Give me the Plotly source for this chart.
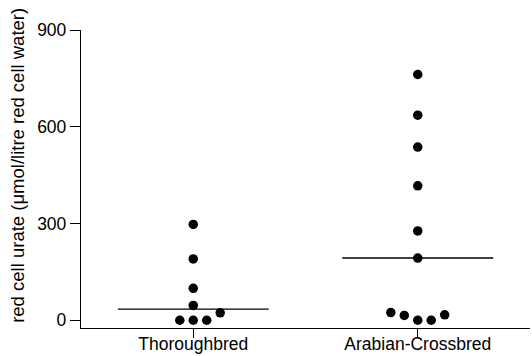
import numpy as np
import plotly.graph_objects as go

# Red cell urate per horse, grouped by breed
categories = ["Thoroughbred", "Arabian-Crossbred"]
thoroughbred = [297, 190, 99, 46, 23, 0, 0, 0]
arabian_crossbred = [762, 636, 537, 417, 277, 193, 24, 15, 0, 0, 17]
groups = [thoroughbred, arabian_crossbred]

y_ticks = [0, 300, 600, 900]
y_range = [-24, 900]
y_title = "red cell urate (\u03bcmol/litre red cell water)"

# Column-scatter spacing: horizontal step between neighbouring dots and
# the vertical clearance (in data units) before dots need to be spread out.
STEP = 0.06
CLEARANCE = 29.0
MEDIAN_HALF_WIDTH = 0.336


def spread(values):
    """Simple beeswarm: put each value in the first column slot that is free."""
    order = np.argsort(values, kind="stable")
    slots = [0, 1, -1, 2, -2, 3, -3]
    placed = []  # (slot, value)
    offsets = [0.0] * len(values)
    for i in order:
        v = values[i]
        for s in slots:
            if all(not (ps == s and abs(pv - v) < CLEARANCE) for ps, pv in placed):
                placed.append((s, v))
                offsets[i] = s * STEP
                break
    return offsets


fig = go.Figure()
for gi, vals in enumerate(groups):
    offs = spread(vals)
    fig.add_trace(go.Scatter(
        x=[gi + o for o in offs], y=vals, mode="markers",
        marker=dict(color="black", size=9.5, line=dict(width=0)),
        showlegend=False, hoverinfo="y",
    ))
    med = float(np.median(vals))
    fig.add_trace(go.Scatter(
        x=[gi - MEDIAN_HALF_WIDTH, gi + MEDIAN_HALF_WIDTH], y=[med, med],
        mode="lines", line=dict(color="black", width=1.3),
        showlegend=False, hoverinfo="skip",
    ))

font = dict(family="Arial, Liberation Sans, sans-serif", size=17.5, color="black")
fig.update_layout(
    width=532, height=356,
    margin=dict(l=81, r=2, t=30, b=28),
    paper_bgcolor="white", plot_bgcolor="white",
    font=font,
    xaxis=dict(
        range=[-0.5, 1.5], tickvals=[0, 1], ticktext=categories,
        showline=True, linecolor="black", linewidth=1.3,
        ticks="outside", ticklen=9, tickwidth=1.3, tickcolor="black",
        ticklabelstandoff=-9,
        showgrid=False, zeroline=False, fixedrange=True, automargin=False,
    ),
    yaxis=dict(
        range=y_range, tickvals=y_ticks,
        showline=True, linecolor="black", linewidth=1.3,
        ticks="outside", ticklen=10, tickwidth=1.3, tickcolor="black",
        showgrid=False, zeroline=False, fixedrange=True, automargin=False,
    ),
    annotations=[dict(
        text=y_title, textangle=-90, showarrow=False,
        xref="paper", yref="paper", x=-0.142, y=0.545,
        xanchor="center", yanchor="middle", font=dict(size=18.5),
    )],
)

fig.write_html("out.html")
